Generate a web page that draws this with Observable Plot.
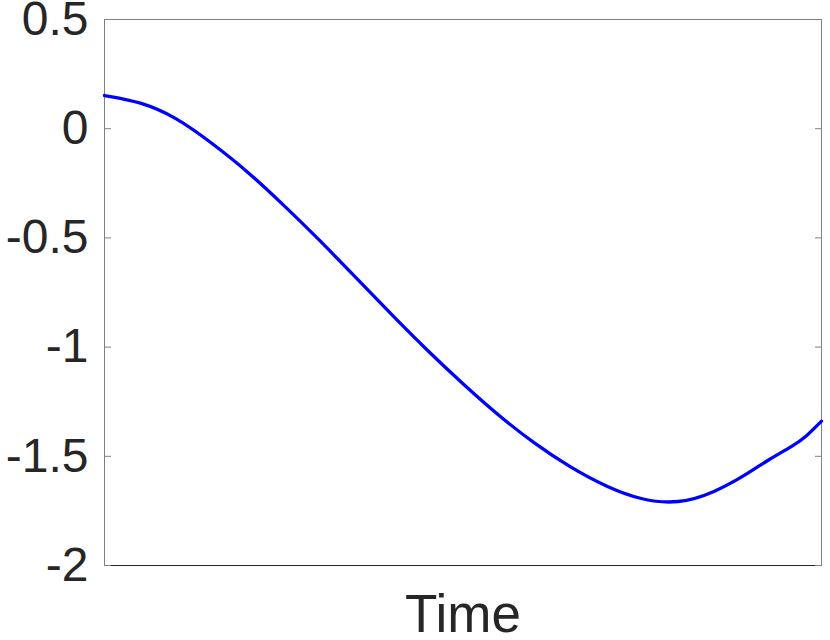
<!DOCTYPE html>
<html>
<head>
<meta charset="utf-8">
<script src="https://cdn.jsdelivr.net/npm/d3@7"></script>
<script src="https://cdn.jsdelivr.net/npm/@observablehq/plot@0.6"></script>
<style>
  html, body { margin: 0; padding: 0; background: #fff; }
  #chart svg { display: block; }
</style>
</head>
<body>
<div id="chart"></div>
<script>
// Data (time normalized 0..1, no tick labels on x)
const timeValues = [0, 0.05, 0.10, 0.15, 0.20, 0.25, 0.30, 0.35, 0.40, 0.45, 0.50, 0.55, 0.60, 0.65, 0.70, 0.75, 0.80, 0.85, 0.90, 0.924, 0.961, 0.979, 1.0];
const signalValues = [0.152, 0.124, 0.053, -0.066, -0.196, -0.350, -0.510, -0.680, -0.850, -1.015, -1.169, -1.315, -1.443, -1.552, -1.640, -1.702, -1.718, -1.668, -1.574, -1.519, -1.451, -1.409, -1.339];
const yTicks = [0.5, 0, -0.5, -1, -1.5, -2];
const yTickLabels = ["0.5", "0", "-0.5", "-1", "-1.5", "-2"];
const xLabel = "Time";

const data = timeValues.map((t, i) => ({t, v: signalValues[i]}));
const fmt = d => yTickLabels[yTicks.indexOf(d)];

const chart = Plot.plot({
  width: 830,
  height: 640,
  marginLeft: 104,
  marginRight: 9,
  marginTop: 19,
  marginBottom: 75,
  style: {fontFamily: "'Liberation Sans', Arial, Helvetica, sans-serif", color: "#262626", background: "#fff"},
  x: {domain: [0, 1], axis: null},
  y: {domain: [-2, 0.5]},
  marks: [
    Plot.frame({stroke: "#808080", strokeOpacity: 1}),
    Plot.frame({anchor: "bottom", stroke: "#262626", strokeOpacity: 1}),
    Plot.axisY(yTicks, {anchor: "left", tickSize: 0, tickPadding: 16, fontSize: 48, tickFormat: fmt, label: null, fill: "#262626"}),
    Plot.axisY(yTicks, {anchor: "left", tickSize: -7, tickFormat: () => "", label: null, stroke: "#808080", strokeOpacity: 1}),
    Plot.axisY(yTicks, {anchor: "right", tickSize: -7, tickFormat: () => "", label: null, stroke: "#808080", strokeOpacity: 1}),
    Plot.line(data, {x: "t", y: "v", stroke: "#0000ff", strokeWidth: 3.3, curve: "basis"}),
    Plot.text([xLabel], {frameAnchor: "bottom", lineAnchor: "bottom", dy: 66.5, fontSize: 53, fill: "#262626", text: d => d})
  ]
});
document.getElementById("chart").appendChild(chart);
</script>
</body>
</html>
